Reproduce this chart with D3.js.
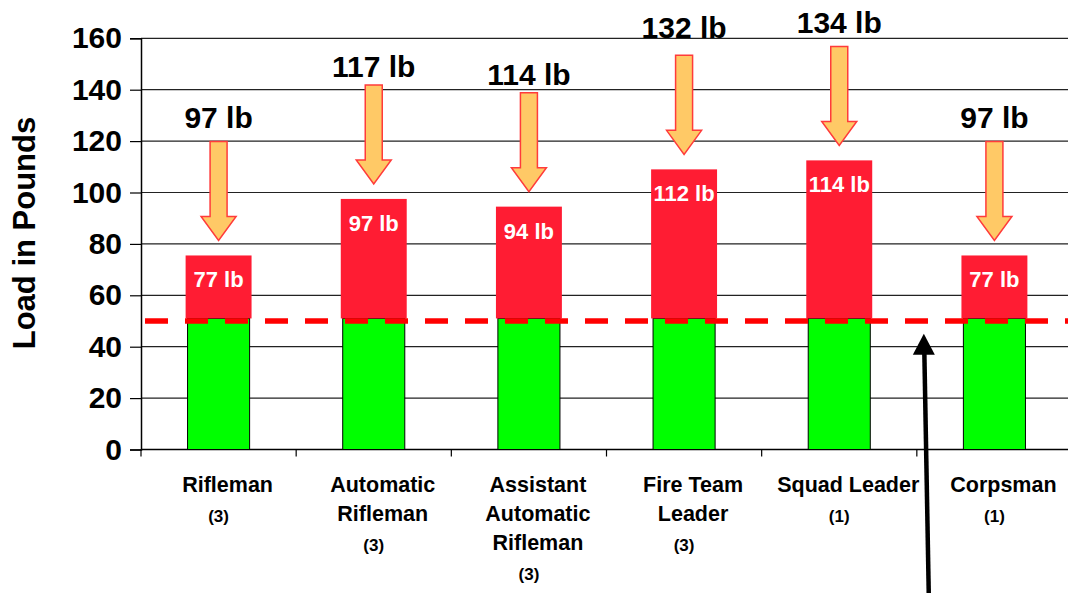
<!DOCTYPE html>
<html>
<head>
<meta charset="utf-8">
<script src="https://cdn.jsdelivr.net/npm/d3@7"></script>
<style>
  body { margin: 0; background: #fff; }
  svg { display: block; font-family: "Liberation Sans", Arial, sans-serif; font-weight: bold; }
</style>
</head>
<body>
<script>
// chart data
const categories = ["Rifleman", "Automatic Rifleman", "Assistant Automatic Rifleman", "Fire Team Leader", "Squad Leader", "Corpsman"];
const labelLines = [["Rifleman"], ["Automatic", "Rifleman"], ["Assistant", "Automatic", "Rifleman"], ["Fire Team", "Leader"], ["Squad Leader"], ["Corpsman"]];
const counts = ["(3)", "(3)", "(3)", "(3)", "(1)", "(1)"];
const baseLoad = [51, 51, 51, 51, 51, 51];          // green part
const barTop = [75.5, 97.5, 94.5, 109, 112.5, 75.5];  // top of red part
const barLabels = ["77 lb", "97 lb", "94 lb", "112 lb", "114 lb", "77 lb"];
const totals = [97, 117, 114, 132, 134, 97];
const totalLabels = ["97 lb", "117 lb", "114 lb", "132 lb", "134 lb", "97 lb"];
const threshold = 50;
const yTicks = [0, 20, 40, 60, 80, 100, 120, 140, 160];

const width = 1068, height = 593;
const svg = d3.select("body").append("svg")
  .attr("width", width)
  .attr("height", height);

// scales
const x = d3.scaleBand().domain(categories).range([141, 1072]).padding(0);
const y = d3.scaleLinear().domain([0, 160]).range([449.5, 38.3]);

//gridlines
svg.append("g")
  .selectAll("line")
  .data(yTicks.slice(1))
  .join("line")
  .attr("x1", 141).attr("x2", width)
  .attr("y1", d => y(d)).attr("y2", d => y(d))
  .attr("stroke", "#222").attr("stroke-width", 1.2);

//y axis
const yAxis = svg.append("g")
  .attr("transform", "translate(141,0)")
  .call(d3.axisLeft(y).tickValues(yTicks).tickSize(11).tickPadding(8));
yAxis.select(".domain").attr("stroke", "#000").attr("stroke-width", 1.5);
yAxis.selectAll(".tick line").attr("stroke", "#000").attr("stroke-width", 1.2);
yAxis.selectAll(".tick text")
  .attr("font-size", 30).attr("font-weight", "bold")
  .attr("font-family", "'Liberation Sans', Arial, sans-serif")
  .attr("fill", "#000");

//y title
svg.append("text")
  .attr("transform", "translate(35,233) rotate(-90)")
  .attr("text-anchor", "middle")
  .attr("font-size", 31)
  .text("Load in Pounds");

//x axis
const xAxis = svg.append("g")
  .attr("transform", `translate(0,${y(0)})`);
xAxis.append("line")
  .attr("x1", 141).attr("x2", width)
  .attr("stroke", "#000").attr("stroke-width", 1.5);
xAxis.selectAll("line.tk")
  .data(categories)
  .join("line")
  .attr("class", "tk")
  .attr("x1", d => x(d)).attr("x2", d => x(d))
  .attr("y1", 0).attr("y2", 7)
  .attr("stroke", "#000").attr("stroke-width", 1.2);

const cx = i => x(categories[i]) + x.bandwidth() / 2;
const greenW = x.bandwidth() * 0.4;
const redW = x.bandwidth() * 0.425;

//green bars
svg.append("g")
  .selectAll("rect")
  .data(baseLoad)
  .join("rect")
  .attr("x", (d, i) => cx(i) - greenW / 2)
  .attr("y", d => y(d))
  .attr("width", greenW)
  .attr("height", d => y(0) - y(d))
  .attr("fill", "#00ff00")
  .attr("stroke", "#000").attr("stroke-width", 1);

//red bars
svg.append("g")
  .selectAll("rect")
  .data(barTop)
  .join("rect")
  .attr("x", (d, i) => cx(i) - redW / 2)
  .attr("y", d => y(d))
  .attr("width", redW)
  .attr("height", (d, i) => y(baseLoad[i]) - y(d))
  .attr("fill", "#ff1c33");

//labels inside red bars
svg.append("g")
  .selectAll("text")
  .data(barLabels)
  .join("text")
  .attr("x", (d, i) => cx(i))
  .attr("y", (d, i) => y(barTop[i]) + 32)
  .attr("text-anchor", "middle")
  .attr("font-size", 22)
  .attr("fill", "#fff")
  .text(d => d);

//dashed threshold line
svg.append("line")
  .attr("x1", 145).attr("x2", width)
  .attr("y1", y(threshold)).attr("y2", y(threshold))
  .attr("stroke", "#ff0000").attr("stroke-width", 5.5)
  .attr("stroke-dasharray", "23,17");

//orange arrows
const arrowLen = 99, shaftW = 17, headW = 35, headH = 24;
svg.append("g")
  .selectAll("path")
  .data(barTop)
  .join("path")
  .attr("d", (d, i) => {
    const tx = cx(i), ty = y(d) - 15, top = ty - arrowLen, hb = ty - headH;
    return `M${tx - shaftW / 2},${top} L${tx + shaftW / 2},${top} L${tx + shaftW / 2},${hb} L${tx + headW / 2},${hb} L${tx},${ty} L${tx - headW / 2},${hb} L${tx - shaftW / 2},${hb} Z`;
  })
  .attr("fill", "#ffc966")
  .attr("stroke", "#ff3b3b").attr("stroke-width", 1.5);

//total labels above arrows
svg.append("g")
  .selectAll("text")
  .data(totalLabels)
  .join("text")
  .attr("x", (d, i) => cx(i))
  .attr("y", (d, i) => Math.max(y(totals[i]) - 72, 33))
  .attr("text-anchor", "middle")
  .attr("font-size", 30)
  .attr("fill", "#000")
  .text(d => d);

//category labels
const catG = svg.append("g")
  .selectAll("g")
  .data(labelLines)
  .join("g");
catG.selectAll("text")
  .data((d, i) => d.map(t => ({ t, i })))
  .join("text")
  .attr("x", d => cx(d.i) + 9)
  .attr("y", (d, j) => 492 + j * 29)
  .attr("text-anchor", "middle")
  .attr("font-size", 21.5)
  .attr("fill", "#000")
  .text(d => d.t);

svg.append("g")
  .selectAll("text")
  .data(counts)
  .join("text")
  .attr("x", (d, i) => cx(i))
  .attr("y", (d, i) => 492 + (labelLines[i].length - 1) * 29 + 30)
  .attr("text-anchor", "middle")
  .attr("font-size", 17)
  .attr("fill", "#000")
  .text(d => d);

//black pointer arrow to the threshold line
const px = x("Corpsman") + 7;
const tipY = y(45);
svg.append("line")
  .attr("x1", px + 5).attr("y1", height + 5)
  .attr("x2", px + 0.5).attr("y2", tipY + 18)
  .attr("stroke", "#000").attr("stroke-width", 4.5);
svg.append("path")
  .attr("d", `M${px},${tipY} L${px + 11},${tipY + 21} L${px - 11},${tipY + 21} Z`)
  .attr("fill", "#000");
</script>
</body>
</html>
